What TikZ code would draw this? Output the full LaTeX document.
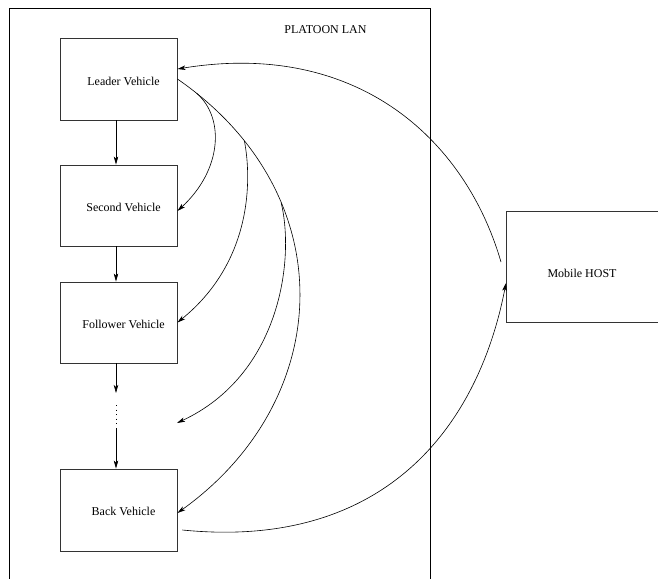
\documentclass[tikz,border=0pt]{standalone}
\usepackage{fontspec}
\setmainfont{Liberation Serif}
\usetikzlibrary{arrows.meta}
\begin{document}
\begin{tikzpicture}[x=1pt,y=-1pt,
  vbox/.style={draw=black!80, line width=0.9pt, rectangle, minimum width=117pt,
               minimum height=82pt, inner sep=0pt},
  lbl/.style={font=\fontsize{12}{14}\selectfont, inner sep=0pt},
  wire/.style={line width=0.6pt},
  link/.style={wire, -{Stealth[length=8pt,width=4.5pt,inset=2pt]}}]
\useasboundingbox (0,0) rectangle (658,578);
\clip (0,0) rectangle (658,578);

% LAN enclosure (open towards the bottom)
\draw[line width=0.8pt] (9,600) -- (9,8) -- (430,8) -- (430,600);
\node[lbl] (lan) at (325.5,30) {PLATOON LAN};

% vehicles of the platoon
\node[vbox] (lv) at (118.5,79) {};
\node[vbox, minimum height=81pt] (sv) at (118.5,205.5) {};
\node[vbox, minimum height=81pt] (fv) at (118.5,322.5) {};
\node[vbox] (bv) at (118.5,510) {};
\node[lbl] (lvt) at (123.5,81) {Leader Vehicle};
\node[lbl] (svt) at (123.5,207) {Second Vehicle};
\node[lbl] (fvt) at (123.5,324) {Follower Vehicle};
\node[lbl] (bvt) at (123.5,511) {Back Vehicle};

% mobile host outside the LAN
\node[draw=black!80, line width=0.9pt, minimum width=200pt, minimum height=111pt,
      inner sep=0pt, anchor=west] (mh) at (506,266.5) {};
\node[lbl] (mht) at (582,273) {Mobile HOST};

% chain of vehicles
\coordinate (d1) at (116,393);
\coordinate (d2) at (116,405);
\coordinate (d3) at (116,424);
\coordinate (d4) at (116,428);
\draw[link] ([xshift=-2.5pt]lv.south) -- ([xshift=-2.5pt]sv.north);
\draw[link] ([xshift=-2.5pt]sv.south) -- ([xshift=-2.5pt]fv.north);
\draw[link] ([xshift=-2.5pt]fv.south) -- (d1);
\draw[wire, dash pattern=on 0.8pt off 3.7pt] (d2) -- (d3);
\draw[link] (d4) -- ([xshift=-2.5pt]bv.north);

% broadcast from the leader
\coordinate (dt) at (177,423);
\draw[link] (lv.east) .. controls (345,195) and (335,400) .. ([yshift=-3pt]bv.east)
  coordinate[pos=0.04] (c1) coordinate[pos=0.16] (c2) coordinate[pos=0.30] (c3);
\draw[link] (c1) .. controls (225,118) and (222,170) .. ([yshift=-5.5pt]sv.east);
\draw[link] (c2) .. controls (252,180) and (252,262) .. (fv.east);
\draw[link] (c3) .. controls (295,260) and (280,375) .. (dt);

% exchange with the mobile host
\draw[link] ([xshift=-5pt,yshift=4.5pt]mh.west) .. controls (464.6,137) and (355,40)
  .. ([yshift=10pt]lv.east);
\draw[link] ([xshift=5pt,yshift=-20pt]bv.east) .. controls (382,550) and (477.5,430)
  .. ([yshift=-16.5pt]mh.west);
\end{tikzpicture}
\end{document}
